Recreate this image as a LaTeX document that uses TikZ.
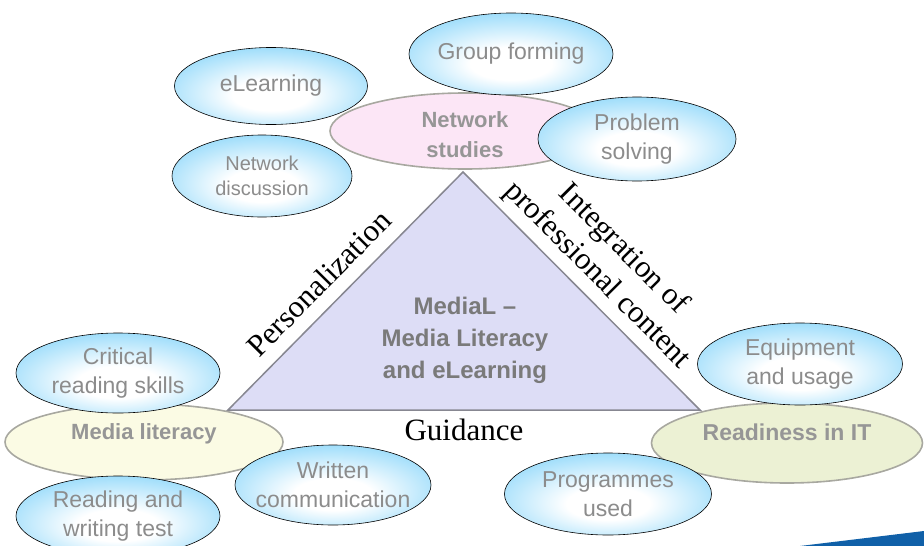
\documentclass[tikz,border=0pt]{standalone}
\usepackage{fontspec}
\setmainfont{Liberation Serif}
\setsansfont{Liberation Sans}
\usetikzlibrary{shapes.geometric,positioning}

\definecolor{bubbleblue}{RGB}{92,198,248}
\definecolor{bubbletext}{RGB}{140,140,140}
\definecolor{ringtext}{RGB}{150,150,150}
\definecolor{ringgrey}{RGB}{168,168,160}
\definecolor{pinkfill}{RGB}{252,230,246}
\definecolor{yellowfill}{RGB}{251,251,228}
\definecolor{greenfill}{RGB}{236,241,212}
\definecolor{trifill}{RGB}{221,221,246}
\definecolor{trigrey}{RGB}{135,135,145}
\definecolor{swoosh}{RGB}{16,96,168}

\pgfdeclareradialshading{bubbleshade}{\pgfpoint{0bp}{-7bp}}{color(0bp)=(white); color(10bp)=(white); color(42bp)=(bubbleblue); color(60bp)=(bubbleblue)}

\begin{document}
\begin{tikzpicture}[x=1pt,y=-1pt,
    bubble/.style={ellipse,draw=black,line width=0.6pt,shading=bubbleshade,inner sep=0pt},
    bubtext/.style={font=\sffamily\fontsize{23}{29}\selectfont,text=bubbletext,align=center},
    smalltext/.style={font=\sffamily\fontsize{20}{25}\selectfont,text=bubbletext,align=center},
    basering/.style={ellipse,draw=ringgrey,line width=1.6pt,inner sep=0pt},
    ringlabel/.style={font=\sffamily\bfseries\fontsize{22}{30}\selectfont,text=ringtext,align=center},
    edgetext/.style={font=\fontsize{31}{37}\selectfont,align=center,sloped}]

  \useasboundingbox (0,0) rectangle (924,546);

  \coordinate (apex)    at (463,172);
  \coordinate (lcorner) at (228,410);
  \coordinate (rcorner) at (700,410);

  \filldraw[fill=trifill,draw=trigrey,line width=1.5pt] (lcorner) -- (apex) -- (rcorner) -- cycle;
  \node[font=\sffamily\bfseries\fontsize{24}{32}\selectfont,text=black!52,align=center]
        (mediaL) at (465,340) {MediaL --\\Media Literacy\\and eLearning};

  \node[basering,fill=pinkfill,minimum width=270,minimum height=76,
        label={[ringlabel,yshift=-4pt]center:Network\\studies}]       (netstudies) at (465,131) {};
  \node[basering,fill=yellowfill,minimum width=278,minimum height=76,
        label={[ringlabel,yshift=8pt]center:Media literacy}]          (medialit)   at (144,442) {};
  \node[basering,fill=greenfill,minimum width=271,minimum height=80,
        label={[ringlabel,font=\sffamily\bfseries\fontsize{23}{30}\selectfont,yshift=11pt]center:Readiness in IT}]
                                                                       (readiness)  at (787,443) {};

  \node[bubble,minimum width=193,minimum height=77,label={[bubtext]center:eLearning}]                    (elearn)     at (271,86)  {};
  \node[bubble,minimum width=180,minimum height=82,label={[smalltext]center:Network\\discussion}]        (netdisc)    at (262,176) {};
  \node[bubble,minimum width=204,minimum height=82,label={[bubtext]center:Group forming}]                (group)      at (511,54)  {};
  \node[bubble,minimum width=198,minimum height=84,label={[bubtext]center:Problem\\solving}]             (problem)    at (637,139) {};
  \node[bubble,minimum width=204,minimum height=80,label={[bubtext]center:Critical\\reading skills}]     (critical)   at (118,373) {};
  \node[bubble,minimum width=204,minimum height=80,label={[bubtext]center:Reading and\\writing test}]    (readwrite)  at (118,516) {};
  \node[bubble,minimum width=196,minimum height=80,label={[bubtext]center:Written\\communication}]       (written)    at (333,485) {};
  \node[bubble,minimum width=207,minimum height=82,label={[bubtext]center:Programmes\\used}]             (programmes) at (608,494) {};
  \node[bubble,minimum width=205,minimum height=82,label={[bubtext]center:Equipment\\and usage}]         (equipment)  at (800,364) {};

  \path (lcorner) -- node[edgetext,above=10pt,pos=0.46] (personal) {Personalization} (apex);
  \path (apex)    -- node[edgetext,above=4pt] (integrate) {Integration of\\professional content} (rcorner);
  \path (lcorner) -- node[edgetext,below=5pt] (guidance) {Guidance} (rcorner);

  \fill[swoosh] (800,546) -- (924,531) -- (924,546) -- cycle;

\end{tikzpicture}
\end{document}
